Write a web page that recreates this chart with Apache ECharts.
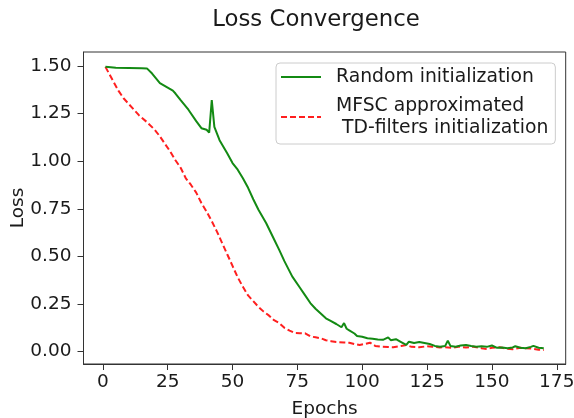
<!DOCTYPE html>
<html>
<head>
<meta charset="utf-8">
<script src="https://cdn.jsdelivr.net/npm/echarts@6/dist/echarts.min.js"></script>
<style>html,body{margin:0;padding:0;background:#fff}#c{width:574px;height:418px}</style>
</head>
<body>
<div id="c"></div>
<script>
const xTicks = [0, 25, 50, 75, 100, 125, 150, 175];
const yTicks = [0, 0.25, 0.5, 0.75, 1.0, 1.25, 1.5];
const seriesNames = ['Random initialization', 'MFSC approximated\n TD-filters initialization'];

const randomEpochs = [1,5,10,15,17,19,22,25,27,28,30,33,36,38,40,41,42,43,45,48,50,52,54,56,58,60,63,66,68,70,73,76,78,80,82,84,86,88,90,92,93,94,95,97,98,100,102,104,106,108,110,111,113,115,117,118,120,122,124,126,128,130,132,133,134,136,138,140,142,144,146,148,150,152,154,156,158,159,161,163,165,166,168,170];
const randomLoss = [1.495,1.490,1.489,1.488,1.487,1.46,1.41,1.386,1.37,1.355,1.32,1.27,1.21,1.173,1.165,1.15,1.32,1.18,1.11,1.04,0.99,0.955,0.91,0.86,0.80,0.745,0.674,0.59,0.534,0.475,0.395,0.335,0.295,0.255,0.225,0.20,0.175,0.16,0.145,0.128,0.15,0.12,0.112,0.095,0.082,0.078,0.07,0.068,0.064,0.062,0.075,0.06,0.065,0.05,0.035,0.052,0.045,0.05,0.045,0.04,0.03,0.025,0.03,0.058,0.03,0.026,0.032,0.035,0.03,0.026,0.028,0.025,0.032,0.02,0.022,0.018,0.022,0.028,0.02,0.018,0.025,0.03,0.02,0.018];

const mfscEpochs = [1,2,4,6,8,10,12,14,17,20,22,24,26,28,30,32,34,36,38,40,42,44,46,48,50,52,54,56,58,60,62,64,66,68,70,72,74,76,78,80,82,84,86,88,90,93,95,97,99,101,103,105,107,110,112,115,117,119,122,125,127,130,132,135,137,140,143,146,148,150,153,156,158,161,163,166,168,170];
const mfscLoss = [1.495,1.47,1.42,1.37,1.33,1.30,1.27,1.24,1.205,1.165,1.13,1.09,1.05,1.005,0.965,0.91,0.875,0.835,0.78,0.735,0.685,0.63,0.57,0.51,0.45,0.39,0.34,0.295,0.265,0.235,0.21,0.19,0.165,0.15,0.125,0.11,0.098,0.097,0.096,0.08,0.075,0.07,0.06,0.055,0.05,0.048,0.047,0.04,0.035,0.04,0.047,0.03,0.026,0.024,0.023,0.03,0.035,0.025,0.023,0.028,0.026,0.022,0.023,0.02,0.026,0.022,0.026,0.018,0.013,0.02,0.023,0.015,0.013,0.02,0.018,0.015,0.01,0.009];

const pair = (xs, ys) => xs.map((x, i) => [x, ys[i]]);
const FONT = 'DejaVu Sans';
const TXT = '#1a1a1a';
const AX = '#333';

const chart = echarts.init(document.getElementById('c'), null, {renderer: 'canvas'});
chart.setOption({
  animation: false,
  backgroundColor: '#fff',
  title: {
    text: 'Loss Convergence',
    left: 316, top: 9, textAlign: 'center', padding: 0,
    textStyle: {fontFamily: FONT, fontSize: 22.8, fontWeight: 'normal', color: TXT}
  },
  grid: {
    left: 83.5, right: 8.3, top: 52, bottom: 54,
    show: true, borderColor: AX, borderWidth: 1, backgroundColor: 'transparent',
    outerBoundsMode: 'none', containLabel: false
  },
  legend: {
    orient: 'vertical',
    left: 276, top: 63,
    padding: [3, 7, 5, 4],
    itemWidth: 40, itemHeight: 14, itemGap: 7,
    backgroundColor: 'rgba(255,255,255,0.8)',
    borderColor: '#cccccc', borderWidth: 1, borderRadius: 4,
    itemStyle: {opacity: 0},
    textStyle: {fontFamily: FONT, fontSize: 18.8, lineHeight: 22, color: TXT, padding: [0,0,0,10]},
    data: seriesNames
  },
  xAxis: {
    type: 'value', min: -7.45, max: 178.45,
    name: 'Epochs', nameLocation: 'middle', nameGap: 36, nameMoveOverlap: false,
    nameTextStyle: {fontFamily: FONT, fontSize: 18.5, color: TXT},
    axisLine: {show: true, onZero: false, lineStyle: {color: AX, width: 1}},
    axisTick: {show: true, length: 6, lineStyle: {color: AX}, customValues: xTicks},
    axisLabel: {show: true, margin: 9, fontFamily: FONT, fontSize: 18.5, color: TXT, customValues: xTicks},
    splitLine: {show: false}
  },
  yAxis: {
    type: 'value', min: -0.065, max: 1.573,
    name: 'Loss', nameLocation: 'middle', nameGap: 56, nameRotate: 90, nameMoveOverlap: false,
    nameTextStyle: {fontFamily: FONT, fontSize: 18.5, color: TXT},
    axisLine: {show: true, onZero: false, lineStyle: {color: AX, width: 1}},
    axisTick: {show: true, length: 6, lineStyle: {color: AX}, customValues: yTicks},
    axisLabel: {show: true, margin: 12, fontFamily: FONT, fontSize: 18.5, color: TXT, customValues: yTicks,
      formatter: v => v.toFixed(2)},
    splitLine: {show: false}
  },
  series: [
    {
      name: seriesNames[0], type: 'line', data: pair(randomEpochs, randomLoss),
      symbol: 'none', showSymbol: false, smooth: false,
      lineStyle: {color: '#138a13', width: 2},
      itemStyle: {color: '#138a13'}, z: 3
    },
    {
      name: seriesNames[1], type: 'line', data: pair(mfscEpochs, mfscLoss),
      symbol: 'none', showSymbol: false, smooth: false,
      lineStyle: {color: '#ff1f1f', width: 2, type: [6, 3]},
      itemStyle: {color: '#ff1f1f'}, z: 2
    }
  ]
});
</script>
</body>
</html>
